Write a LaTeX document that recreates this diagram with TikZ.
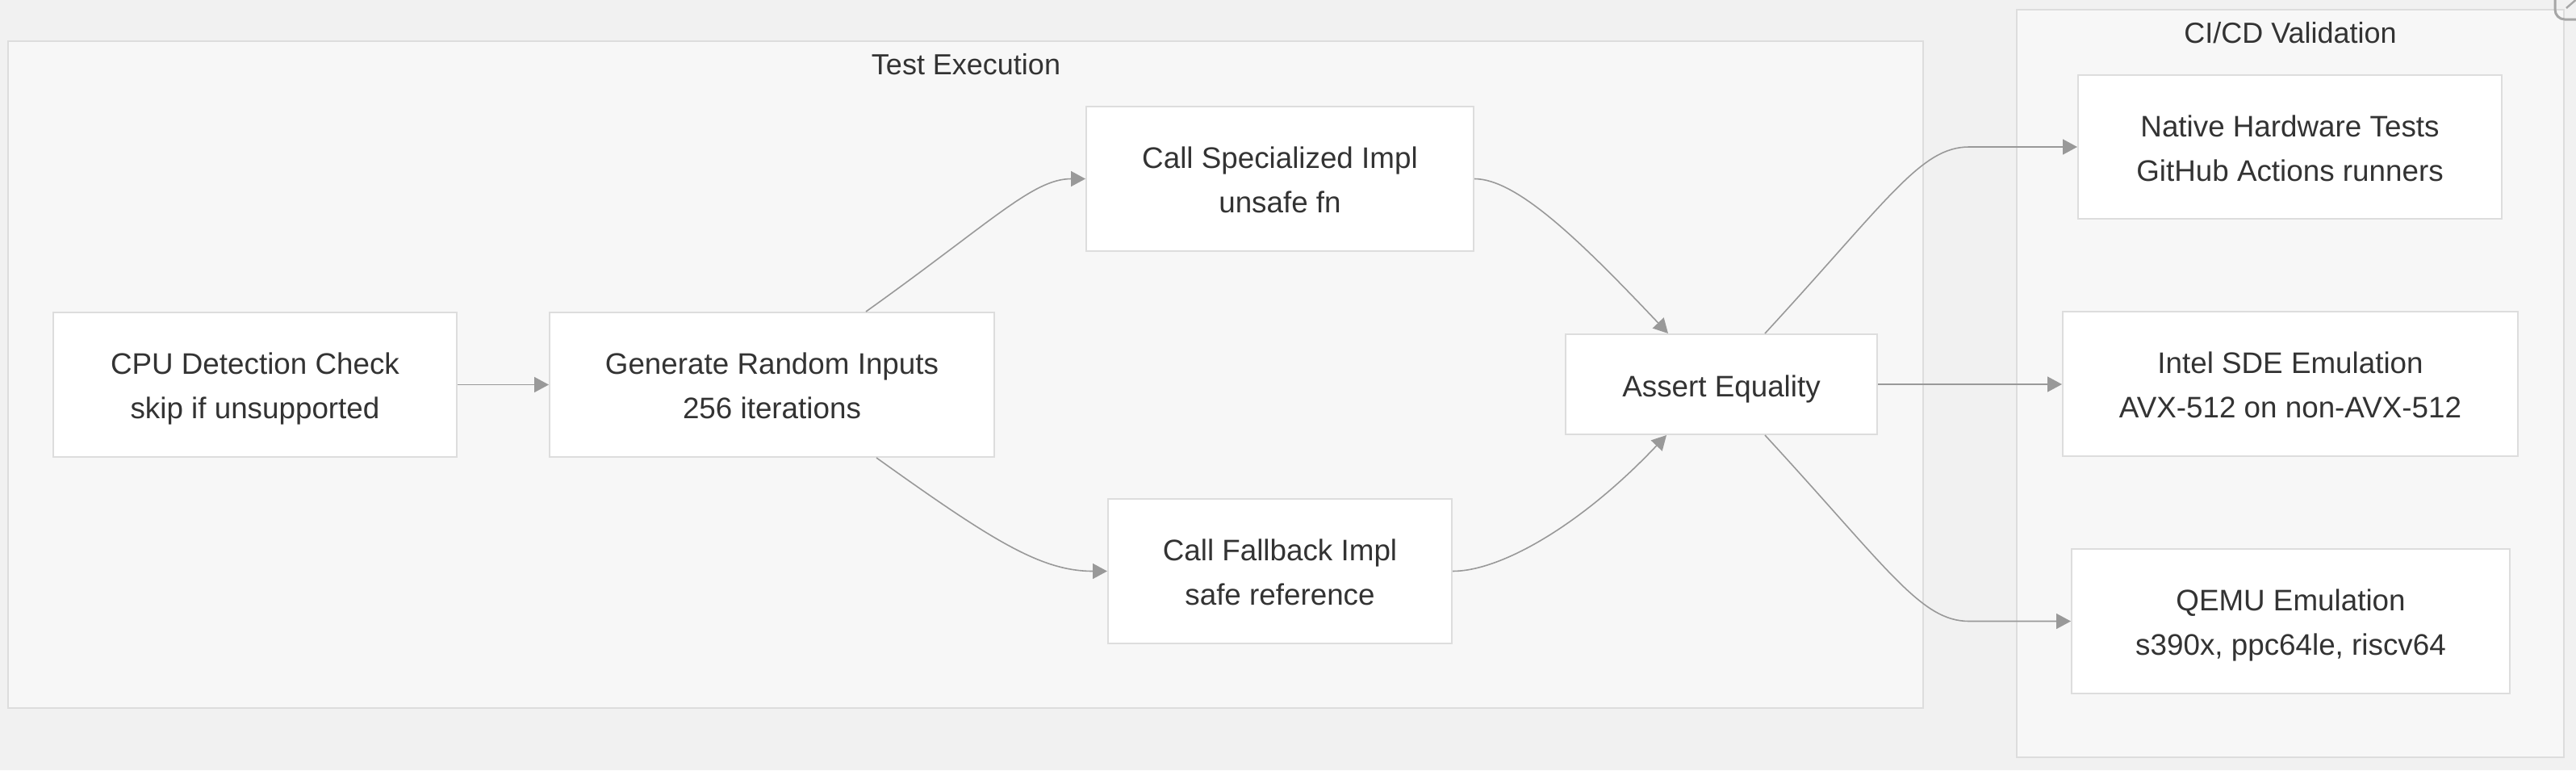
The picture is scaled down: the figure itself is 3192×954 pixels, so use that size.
\documentclass[tikz,border=0pt]{standalone}
\usepackage{fontspec}
\setmainfont{Liberation Sans}
\usetikzlibrary{arrows.meta,calc}
\definecolor{bgout}{HTML}{F1F1F1}
\definecolor{clfill}{HTML}{F7F7F7}
\definecolor{clline}{HTML}{DDDDDD}
\definecolor{boxline}{HTML}{DDDDDD}
\definecolor{edgec}{HTML}{999999}
\definecolor{txt}{HTML}{333333}
\newcommand\mytop{\rule{0pt}{19.8pt}}
\newcommand\mybot{\rule[-5pt]{0pt}{5pt}}
\newcommand\myone{\rule[-5pt]{0pt}{25pt}}
\begin{document}
\begin{tikzpicture}[x=0.5pt,y=-0.5pt,
  box/.style={draw=boxline, line width=1pt, fill=white, text=txt, align=center, inner sep=0pt, font=\fontsize{18.4}{27.5}\selectfont},
  cluster/.style={draw=clline, line width=1pt, fill=clfill},
  ctitle/.style={text=txt, font=\fontsize{18}{22}\selectfont, inner sep=0pt},
  conn/.style={draw=edgec, line width=0.8pt, -{Triangle[length=9pt,width=9.5pt]}}
]
\useasboundingbox (0,0) rectangle (3192,954);
\fill[bgout] (0,0) rectangle (3192,954);
\draw[cluster] (10,51) rectangle (2383,877);
\draw[cluster] (2499,12) rectangle (3177,938);
\node[ctitle] (t1) at (1197,80) {Test Execution};
\node[ctitle] (t2) at (2838,41) {CI/CD Validation};

\node[box, minimum width=250pt, minimum height=89.5pt] (cpu) at (316,476.5) {\mytop CPU Detection Check\\skip if unsupported\mybot};
\node[box, minimum width=275.5pt, minimum height=89.5pt] (gen) at (956.5,476.5) {\mytop Generate Random Inputs\\256 iterations\mybot};
\node[box, minimum width=240pt, minimum height=89.5pt] (spec) at (1586,221.5) {\mytop Call Specialized Impl\\unsafe fn\mybot};
\node[box, minimum width=213pt, minimum height=89.5pt] (fall) at (1586,707.5) {\mytop Call Fallback Impl\\safe reference\mybot};
\node[box, minimum width=193pt, minimum height=62pt] (assert) at (2133,476) {\myone Assert Equality};
\node[box, minimum width=262.5pt, minimum height=89pt] (native) at (2837.5,182) {\mytop Native Hardware Tests\\GitHub Actions runners\mybot};
\node[box, minimum width=282pt, minimum height=89.5pt] (intel) at (2838,475.5) {\mytop Intel SDE Emulation\\AVX-512 on non-AVX-512\mybot};
\node[box, minimum width=271.5pt, minimum height=89.5pt] (qemu) at (2838.5,769.5) {\mytop QEMU Emulation\\s390x, ppc64le, riscv64\mybot};

\draw[conn] (cpu.east) -- (gen.west);
\draw[conn] ($(gen.north)+(116.5,0)$) .. controls (1230,274) and (1280,221.5) .. (spec.west);
\draw[conn] ($(gen.south)+(129.5,0)$) .. controls (1230,670) and (1290,707.5) .. (fall.west);
\draw[conn] (spec.east) .. controls (1880,221.5) and (1960,300) .. ($(assert.north)+(-66,0)$);
\draw[conn] (fall.east) .. controls (1860,707.5) and (1960,650) .. ($(assert.south)+(-68,0)$);
\draw[conn] ($(assert.north)+(54,0)$) .. controls (2340,247) and (2380,182) .. (2440,182) -- (native.west);
\draw[conn] (assert.east) -- (assert.east -| intel.west);
\draw[conn] ($(assert.south)+(54,0)$) .. controls (2340,705) and (2380,769.5) .. (2440,769.5) -- (qemu.west);

\draw[draw=gray!70, line width=1.5pt, rounded corners=6pt] (3166,-40) rectangle (3240,24);
\draw[draw=gray!70, line width=1.2pt] (3180,10) -- (3195,-3);
\end{tikzpicture}
\end{document}
